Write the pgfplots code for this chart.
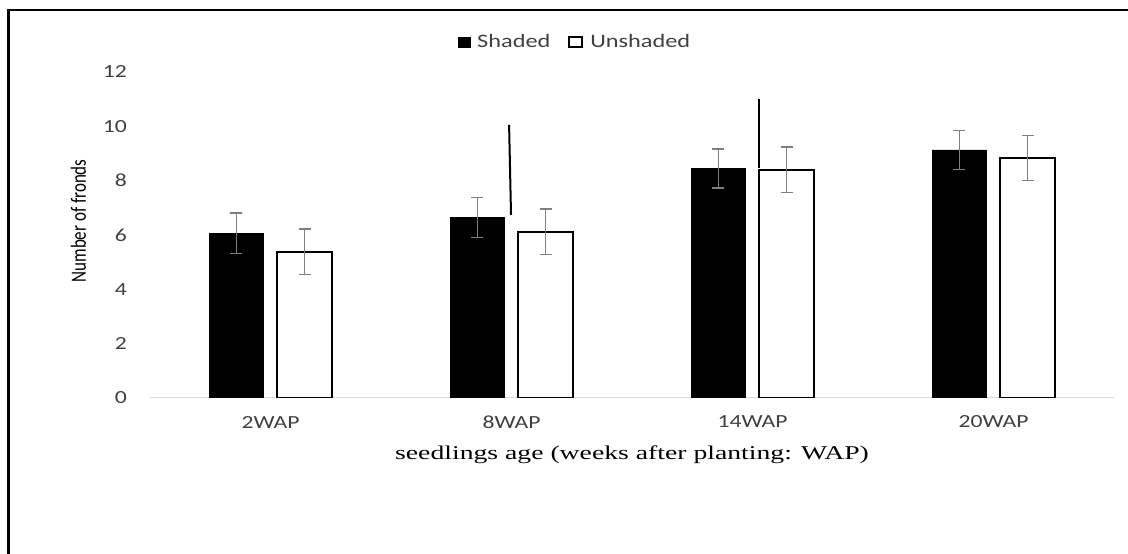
\documentclass[border=0pt]{standalone}
\usepackage{graphicx}
\usepackage{pgfplots}
\pgfplotsset{compat=1.18}
\usepackage{fontspec}
\setmainfont{Carlito}
\newfontfamily\wide{Carlito}[FakeStretch=1.28]
\newfontfamily\serifwide{Liberation Serif}[FakeStretch=1.42]
\definecolor{tickc}{HTML}{404040}
\definecolor{errc}{HTML}{808080}
\definecolor{axc}{HTML}{D9D9D9}

\begin{document}
\begin{tikzpicture}
\path[use as bounding box] (0bp,0bp) rectangle (1128bp,554bp);
\draw[line width=2.5bp] (8.5bp,0bp) -- (8.5bp,544bp) -- (1128bp,544bp);
\begin{axis}[
  at={(150bp,156bp)}, anchor=south west,
  scale only axis, width=964bp, height=326bp,
  xmin=-0.5, xmax=3.5, ymin=0, ymax=12,
  axis x line*=bottom, axis y line*=left,
  x axis line style={draw=axc, line width=1bp, -},
  y axis line style={draw=none, -},
  xtick={0,1,2,3}, xticklabels={2WAP,8WAP,14WAP,20WAP},
  ytick={0,2,4,6,8,10,12},
  major tick length=0pt,
  tick style={draw=none},
  /pgf/number format/assume math mode=true,
  xticklabel style={anchor=center, inner sep=0pt, yshift=-24bp, font=\wide\fontsize{18.5bp}{22bp}\selectfont, text=tickc},
  yticklabel style={anchor=east, inner sep=0pt, xshift=-23bp, font=\wide\fontsize{18.5bp}{22bp}\selectfont, text=tickc},
  xlabel={seedlings age (weeks after planting: WAP)},
  xlabel style={at={(axis description cs:0.5,-0.175)}, anchor=center, font=\serifwide\fontsize{19.5bp}{23bp}\selectfont},
  ylabel={\scalebox{1}[1.28]{Number of fronds}},
  ylabel style={at={(axis description cs:-0.0742,0.543)}, anchor=center, font=\fontsize{17bp}{20bp}\selectfont},
  legend style={at={(0.4409,1.092)}, anchor=center, draw=none, fill=none,
    font=\wide\fontsize{19bp}{22bp}\selectfont, text=tickc, inner xsep=0pt,
    /tikz/every even column/.append style={column sep=16bp}},
  legend columns=2,
  legend cell align=left,
]
\addplot[ybar, bar width=54.6bp, bar shift=0pt, fill=black, draw=black,
  legend image code/.code={\draw[fill=black, draw=black] (0bp,-5bp) rectangle (12bp,5bp); \path (17bp,0bp);},
  error bars/.cd, y dir=both, y explicit,
  error bar style={draw=errc, line width=1.3bp},
  error mark options={rotate=90, mark size=6bp, draw=errc, line width=1.3bp}]
  coordinates {(-0.1418,6.06) +- (0,0.75) (0.8582,6.64) +- (0,0.74) (1.8582,8.45) +- (0,0.72) (2.8582,9.13) +- (0,0.72)};
\addlegendentry{Shaded}
\addplot[ybar, bar width=54.6bp, bar shift=0pt, fill=white, draw=black, line width=2bp,
  legend image code/.code={\draw[fill=white, draw=black, line width=1.6bp] (0bp,-5bp) rectangle (13bp,5bp); \path (18bp,0bp);},
  error bars/.cd, y dir=both, y explicit,
  error bar style={draw=errc, line width=1.3bp},
  error mark options={rotate=90, mark size=6bp, draw=errc, line width=1.3bp}]
  coordinates {(0.1418,5.38) +- (0,0.84) (1.1418,6.12) +- (0,0.84) (2.1418,8.40) +- (0,0.84) (3.1418,8.84) +- (0,0.83)};
\addlegendentry{Unshaded}
\addplot[black, line width=2bp, forget plot] coordinates {(0.990,10.05) (0.998,6.74)};
\addplot[black, line width=2bp, forget plot] coordinates {(2.026,11.0) (2.026,8.45)};
\end{axis}
\end{tikzpicture}
\end{document}
